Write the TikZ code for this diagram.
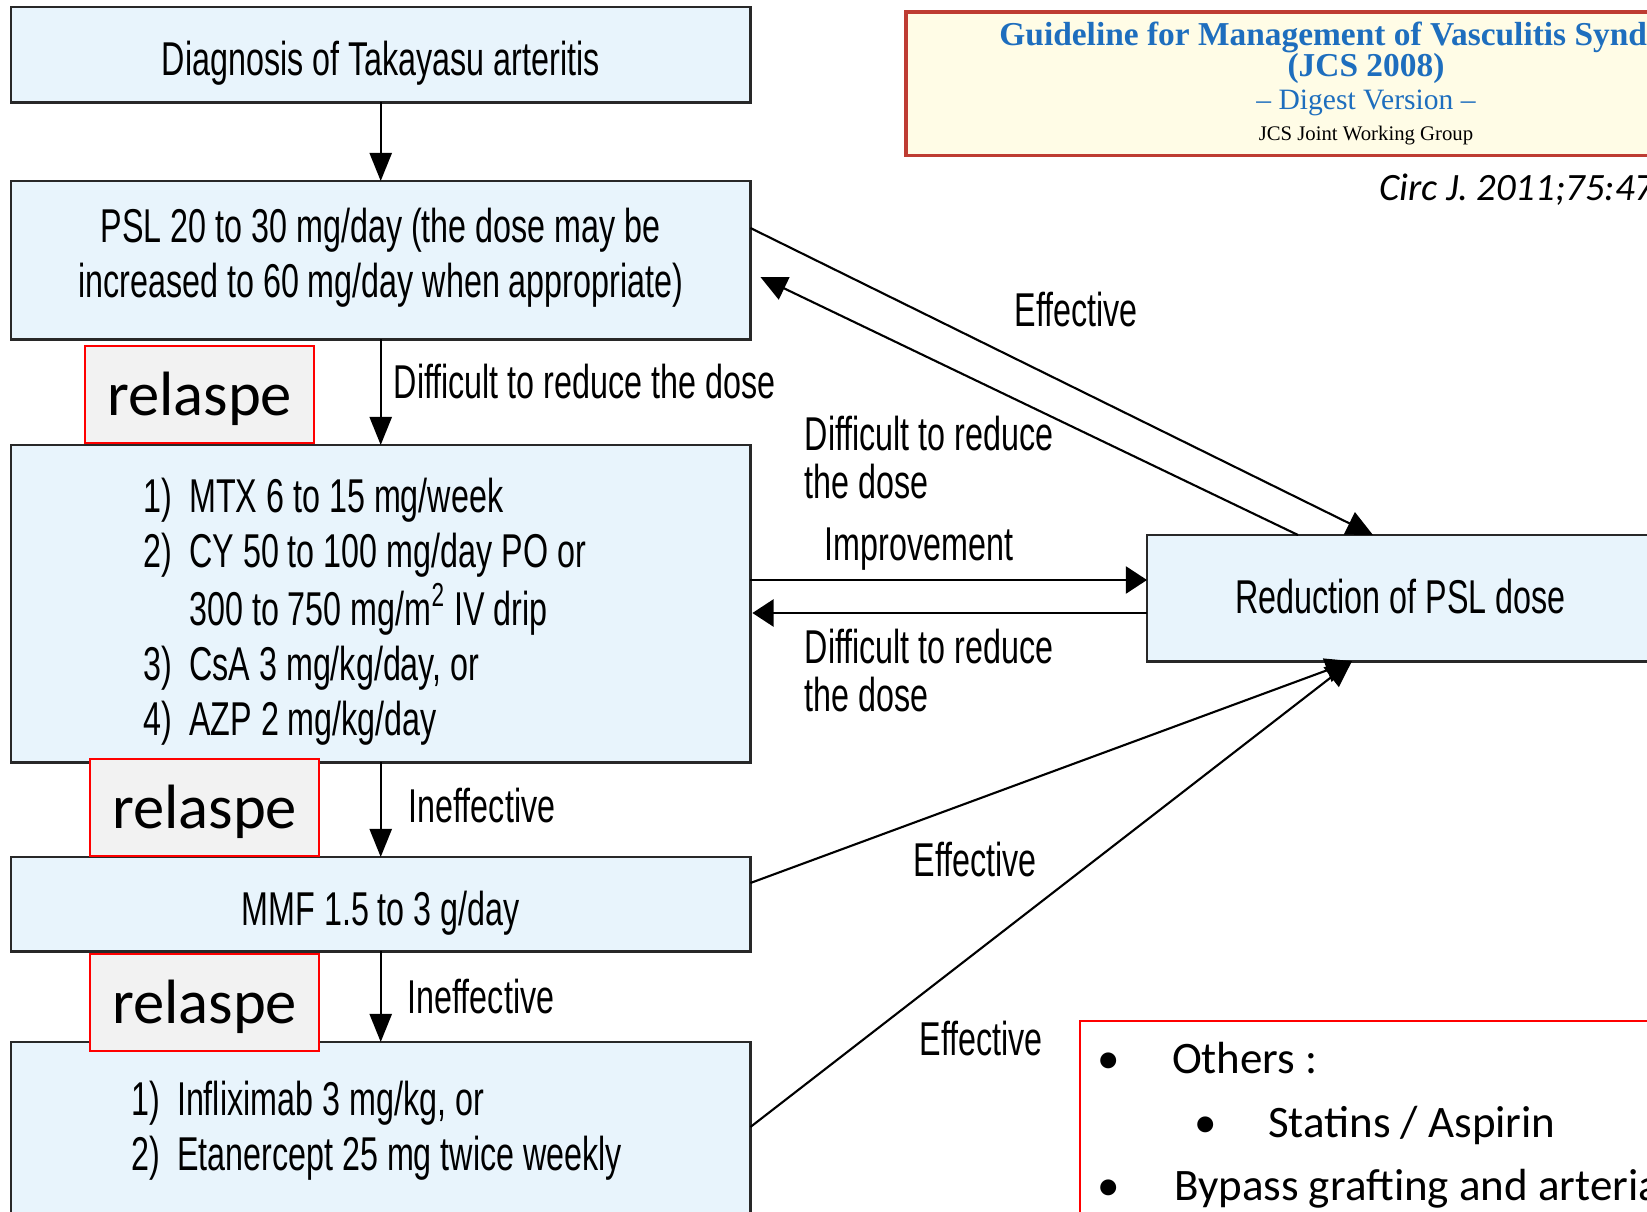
\documentclass[tikz,border=0pt]{standalone}
\usepackage{fontspec}
\usepackage{graphicx}
\setmainfont{Liberation Sans}
\newfontfamily\carl{Carlito}
\newfontfamily\tms{Liberation Serif}
\usetikzlibrary{arrows.meta,calc}
\definecolor{boxfill}{RGB}{232,244,252}
\definecolor{boxline}{RGB}{40,40,40}
\definecolor{relfill}{RGB}{242,242,242}
\definecolor{hdrfill}{RGB}{255,252,230}
\definecolor{hdrline}{RGB}{190,60,50}
\definecolor{hdrblue}{RGB}{30,110,190}
\newcommand\cnd[1]{\scalebox{0.68}[1]{#1}}
\begin{document}
\begin{tikzpicture}[x=0.01cm,y=-0.01cm,
  box/.style={draw=boxline, fill=boxfill, line width=0.85pt, inner sep=0pt, outer sep=0pt, minimum width=7.39cm, anchor=north west, font=\fontsize{13.5}{15.65}\selectfont},
  relbox/.style={draw=red, fill=relfill, line width=0.6pt, inner sep=0pt, outer sep=0pt, minimum width=2.29cm, text height=0.69cm, text depth=0.28cm, anchor=north west, font=\carl\fontsize{17.8}{20}\selectfont},
  lbl/.style={inner sep=0pt, anchor=base west, font=\fontsize{13.5}{13.4}\selectfont},
  tx/.style={inner sep=0pt, outer sep=0pt},
  conn/.style={line width=0.6pt, draw=black},
  arrV/.style={conn, -{Triangle[length=8pt,width=6.3pt]}},
  arrH/.style={conn, -{Triangle[length=6pt,width=7.7pt]}},
  arrD/.style={conn, -{Triangle[length=7.5pt,width=7pt]}},
]
\useasboundingbox (0,0) rectangle (1647,1212);
\clip (0,0) rectangle (1647,1212);
\fill[white] (0,0) rectangle (1647,1212);

% main boxes
\node[box, text height=0.68cm, text depth=0.27cm] (diag) at (11,7) {\cnd{Diagnosis of Takayasu arteritis}};
\node[box, text height=0.61cm, text depth=0.97cm] (psl) at (11,181) {\cnd{\begin{tabular}[t]{@{}c@{}}PSL 20 to 30 mg/day (the dose may be\\ increased to 60 mg/day when appropriate)\end{tabular}}};
\node[box, text height=0.67cm, text depth=2.50cm] (imm) at (11,445) {\cnd{\begin{tabular}[t]{@{}l@{\hspace{0.25cm}}l@{}}1) & MTX 6 to 15 mg/week\\ 2) & CY 50 to 100 mg/day PO or\\ & 300 to 750 mg/m\textsuperscript{2} IV drip\\ 3) & CsA 3 mg/kg/day, or\\ 4) & AZP 2 mg/kg/day\end{tabular}}\rule{0.32cm}{0pt}};
\node[box, text height=0.68cm, text depth=0.26cm] (mmf) at (11,857) {\cnd{MMF 1.5 to 3 g/day}};
\node[box, text height=0.73cm, text depth=1.06cm] (bio) at (11,1042) {\cnd{\begin{tabular}[t]{@{}l@{\hspace{0.25cm}}l@{}}1) & Infliximab 3 mg/kg, or\\ 2) & Etanercept 25 mg twice weekly\end{tabular}}\rule{0.08cm}{0pt}};
\node[box, minimum width=5.07cm, text height=0.78cm, text depth=0.48cm] (red) at (1147,535) {\cnd{Reduction of PSL dose}};

% vertical connectors
\draw[arrV] (diag.south) -- (psl.north);
\draw[arrV] (psl.south) -- (imm.north);
\draw[arrV] (imm.south) -- (mmf.north);
\draw[arrV] (mmf.south) -- (bio.north);

% connectors to / from reduction box
\draw[arrD] ($(psl.north east)+(0,47)$) -- ($(red.north west)+(226,0)$);
\draw[arrD] ($(red.north west)+(151,0)$) -- ($(psl.north east)+(10,96)$);
\draw[arrH] ($(imm.north east)+(0,135)$) -- ($(red.north west)+(0,45)$);
\draw[arrH] ($(red.north west)+(0,78)$) -- ($(imm.north east)+(2,168)$);
\draw[arrD] ($(mmf.north east)+(0,26)$) -- ($(red.south west)+(205,0)$);
\draw[arrD] ($(bio.north east)+(0,85)$) -- ($(red.south west)+(205,0)$);

% relapse boxes
\node[relbox] (rel1) at (85,346) {relaspe};
\node[relbox] (rel2) at (90,759) {relaspe};
\node[relbox] (rel3) at (90,954) {relaspe};

% connector labels
\node[lbl] (l1) at (393,398) {\cnd{Difficult to reduce the dose}};
\node[lbl] (l2) at (408,822) {\cnd{Ineffective}};
\node[lbl] (l3) at (407,1013) {\cnd{Ineffective}};
\node[lbl] (l4) at (1014,327) {\cnd{Effective}};
\node[lbl] (l5) at (804,450) {\cnd{\begin{tabular}[t]{@{}l@{}}Difficult to reduce\\ the dose\end{tabular}}};
\node[lbl] (l6) at (824,560) {\cnd{Improvement}};
\node[lbl] (l7) at (804,663) {\cnd{\begin{tabular}[t]{@{}l@{}}Difficult to reduce\\ the dose\end{tabular}}};
\node[lbl] (l8) at (913,876) {\cnd{Effective}};
\node[lbl] (l9) at (919,1055) {\cnd{Effective}};

% header
\node[draw=hdrline, fill=hdrfill, line width=0.9pt, inner sep=0pt, outer sep=0pt, anchor=north west, minimum width=9.3cm, minimum height=1.43cm] (hdr) at (906,12) {};
\node[tx, anchor=base, text=hdrblue, font=\tms\bfseries\fontsize{9.5}{11}\selectfont] (h1) at (1360,45) {Guideline for Management of Vasculitis Syndrome};
\node[tx, anchor=base, text=hdrblue, font=\tms\bfseries\fontsize{9.5}{11}\selectfont] (h2) at (1366,77) {(JCS 2008)};
\node[tx, anchor=base, text=hdrblue, font=\tms\fontsize{8.4}{10}\selectfont] (h3) at (1366,110) {– Digest Version –};
\node[tx, anchor=base, font=\tms\fontsize{5.9}{7}\selectfont] (h4) at (1366,140) {JCS Joint Working Group};
\node[tx, anchor=base west, font=\carl\itshape\fontsize{11}{13}\selectfont] (cite) at (1379,200) {Circ J. 2011;75:474–503};

% others box
\node[draw=red, fill=white, line width=0.8pt, inner sep=0pt, outer sep=0pt, anchor=north west, minimum width=6cm, minimum height=2.5cm] (oth) at (1080,1021) {};
\node[tx, anchor=base, font=\carl\fontsize{12.8}{15}\selectfont] (bu1) at (1109,1073) {•};
\node[tx, anchor=base west, font=\carl\fontsize{12.8}{15}\selectfont] (o1) at (1172,1073) {Others :};
\node[tx, anchor=base, font=\carl\fontsize{12.8}{15}\selectfont] (bu2) at (1206,1137) {•};
\node[tx, anchor=base west, font=\carl\fontsize{12.8}{15}\selectfont] (o2) at (1268,1137) {Statins / Aspirin};
\node[tx, anchor=base, font=\carl\fontsize{12.8}{15}\selectfont] (bu3) at (1109,1200) {•};
\node[tx, anchor=base west, font=\carl\fontsize{12.8}{15}\selectfont] (o3) at (1174,1200) {Bypass grafting and arterial};
\end{tikzpicture}
\end{document}
